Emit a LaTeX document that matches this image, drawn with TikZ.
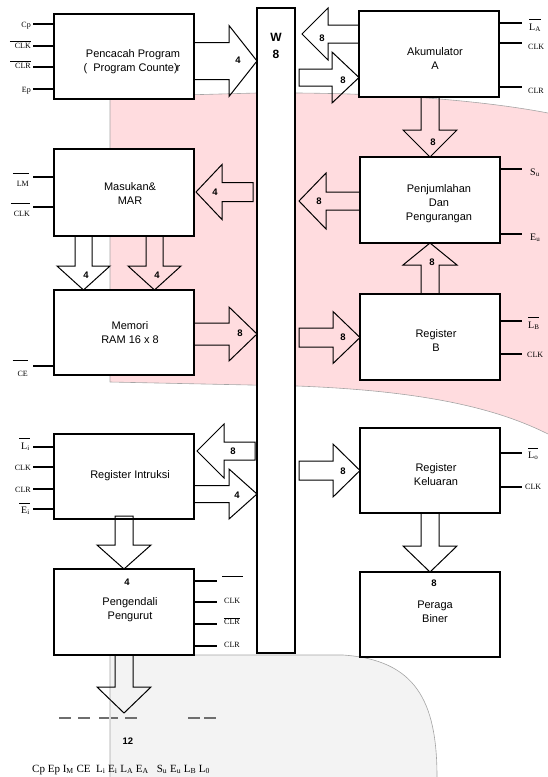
\documentclass[tikz,border=0pt]{standalone}
\usepackage{fontspec}
\setmainfont{Liberation Sans}
\newfontfamily\tmsfont{Liberation Serif}
\usetikzlibrary{calc}
\definecolor{pinkbg}{RGB}{255,220,223}
\definecolor{graybg}{RGB}{243,243,243}
\definecolor{edgegray}{RGB}{165,165,165}
\definecolor{dashgray}{RGB}{110,110,110}
% overline: #1 left extension, #2 gap, #3 content
\newcommand{\ovl}[3][0pt]{\vbox{\hrule height 0.45pt\kern#2\hbox{\kern#1#3}}}
% horizontal block arrow: start anchor, start dx, tip anchor, tip dx, y, shaft half, head half, head length (signed)
\newcommand{\hblk}[8]{%
  \coordinate (hs) at ($(#1 |- 0,#5)+(#2,0)$);
  \coordinate (ht) at ($(#3 |- 0,#5)+(#4,0)$);
  \draw[blk] ($(hs)+(0,{-(#6)})$) -- ($(ht)+({-(#8)},{-(#6)})$) -- ($(ht)+({-(#8)},{-(#7)})$) -- (ht)
    -- ($(ht)+({-(#8)},{#7})$) -- ($(ht)+({-(#8)},{#6})$) -- ($(hs)+(0,{#6})$) -- cycle;}
% vertical block arrow: start anchor, start dy, tip anchor, tip dy, x, shaft half, head half, head length (signed)
\newcommand{\vblk}[8]{%
  \coordinate (vs) at ($(#5,0 |- #1)+(0,#2)$);
  \coordinate (vt) at ($(#5,0 |- #3)+(0,#4)$);
  \draw[blk] ($(vs)+({-(#6)},0)$) -- ($(vt)+({-(#6)},{-(#8)})$) -- ($(vt)+({-(#7)},{-(#8)})$) -- (vt)
    -- ($(vt)+({#7},{-(#8)})$) -- ($(vt)+({#6},{-(#8)})$) -- ($(vs)+({#6},0)$) -- cycle;}
\newcommand{\boxat}[5]{\node[box, minimum width={(#4-#2)*1pt}, minimum height={(#5-#3)*1pt}] (#1) at ({(#2+#4)/2},{(#3+#5)/2}) {};}

\begin{document}
\begin{tikzpicture}[x=1pt,y=-1pt,
  box/.style={draw, line width=1.2pt, fill=white, inner sep=0pt, outer sep=0pt},
  blk/.style={draw, line width=1pt, line join=miter},
  sig/.style={line width=1.2pt},
  bgedge/.style={draw=edgegray, line width=0.6pt},
  txt/.style={font=\fontsize{11}{14}\selectfont, inner sep=0pt, align=center},
  lab/.style={font=\bfseries\fontsize{9.5}{11}\selectfont, inner sep=0pt},
  lblS/.style={font=\tmsfont\fontsize{8}{9}\selectfont, inner sep=0pt},
  lblL/.style={font=\tmsfont\fontsize{10}{11}\selectfont, inner sep=0pt}]
\useasboundingbox (0,0) rectangle (548,777);

% ---------- backgrounds ----------
\fill[pinkbg] (110,97) -- (257,93) .. controls (380,92) and (480,100) .. (548,113) -- (548,434)
  .. controls (500,410) and (430,391) .. (297,386) -- (110,382) -- cycle;
\draw[bgedge] (110,382) -- (110,97) -- (257,93) .. controls (380,92) and (480,100) .. (548,113);
\draw[bgedge] (548,434) .. controls (500,410) and (430,391) .. (297,386) -- (110,382);
\fill[graybg] (110,777) -- (110,655) -- (343,655) .. controls (415,660) and (437,700) .. (437,777) -- cycle;
\draw[bgedge] (110,777) -- (110,655) -- (343,655) .. controls (415,660) and (437,700) .. (437,777);

% ---------- boxes ----------
\boxat{bus}{257}{8}{295}{653}
\boxat{pc}{54}{14}{194}{99}
\boxat{acc}{359}{11}{499}{97}
\boxat{mar}{54}{149}{194}{236}
\boxat{add}{360}{157}{500}{243}
\boxat{mem}{54}{290}{194}{375}
\boxat{regb}{360}{294}{500}{380}
\boxat{ri}{54}{434}{194}{519}
\boxat{out}{360}{428}{500}{513}
\boxat{seq}{54}{569}{194}{655}
\boxat{disp}{360}{572}{500}{657}

% ---------- box texts ----------
\node[font=\bfseries\fontsize{12}{17}\selectfont, inner sep=0pt, align=center] (wl) at (276,46) {W\\8};
\node[txt] (pct1) at (133,55) {Pencacah Program};
\node[txt] (pct2) at (132,69) {(\ \ Program Counte)\kern-1pt r};
\node[txt] (acct) at (435,59) {Akumulator\\A};
\node[txt] (mart) at (130,194) {Masukan\&\\MAR};
\node[txt] (addt) at (439,204) {Penjumlahan\\Dan\\Pengurangan};
\node[txt] (memt) at (130,333) {Memori\\RAM 16 x 8};
\node[txt] (regbt) at (436,341) {Register\\B};
\node[txt] (rit) at (130,476) {Register Intruksi};
\node[txt] (outt) at (436,475) {Register\\Keluaran};
\node[lab] (seqn) at (127,582) {4};
\node[txt] (seqt) at (130,610) {Pengendali\\Pengurut};
\node[lab] (dispn) at (434,583) {8};
\node[txt] (dispt) at (435,612) {Peraga\\Biner};

% ---------- block arrows ----------
\hblk{pc.east}{0}{bus.west}{0}{61}{18.5}{35.5}{28}
\node[lab] (a1) at (238,60) {4};
\hblk{acc.west}{0}{bus.east}{7}{34}{9}{26}{-26}
\node[lab] (a2) at (322,38) {8};
\hblk{bus.east}{4}{acc.west}{0}{77.5}{8.5}{25.5}{27}
\node[lab] (a3) at (343,80) {8};
\vblk{acc.south}{0}{add.north}{0}{430}{9}{27}{27}
\node[lab] (a4) at (433,142) {8};
\hblk{add.west}{0}{bus.east}{4}{201}{9}{28}{-27}
\node[lab] (a5) at (319,201) {8};
\vblk{regb.north}{0}{add.south}{0}{430}{9}{27}{-22}
\node[lab] (a6) at (432,262) {8};
\hblk{bus.east}{4}{regb.west}{0}{337.5}{9.5}{26}{27}
\node[lab] (a7) at (343,337) {8};
\hblk{bus.west}{-4}{mar.east}{2}{192}{9.5}{27.5}{-26}
\node[lab] (a8) at (215,192) {4};
\vblk{mar.south}{0}{mem.north}{0}{83.5}{8.5}{26.5}{24}
\node[lab] (a9) at (86,275) {4};
\vblk{mar.south}{0}{mem.north}{0}{154.5}{8.5}{26.5}{24}
\node[lab] (a10) at (157,275) {4};
\hblk{mem.east}{0}{bus.west}{0}{334}{11}{27}{28}
\node[lab] (a11) at (240,333) {8};
\hblk{bus.west}{-2}{ri.east}{3}{451}{9}{27}{-27}
\node[lab] (a12) at (233,451) {8};
\hblk{ri.east}{0}{bus.west}{0}{494}{8.5}{25}{28}
\node[lab] (a13) at (237,495) {4};
\hblk{bus.east}{4}{out.west}{0}{470.5}{9.5}{26.5}{27}
\node[lab] (a14) at (343,471) {8};
\vblk{out.south}{0}{disp.north}{0}{430}{9}{27}{26}
\vblk{ri.south}{-3}{seq.north}{0}{124}{9}{27}{24}
\coordinate (ctl) at (124,713);
\vblk{seq.south}{0}{ctl}{0}{124}{9}{27}{26}

% ---------- control lines, left side ----------
\foreach \y in {24,46,67,89} \draw[sig] (pc.west |- 0,\y) -- ++(-21,0);
\foreach \y in {177,207} \draw[sig] (mar.west |- 0,\y) -- ++(-21,0);
\foreach \y in {366} \draw[sig] (mem.west |- 0,\y) -- ++(-21,0);
\foreach \y in {447,467,489,509} \draw[sig] (ri.west |- 0,\y) -- ++(-21,0);
% right side
\foreach \y in {23,43,87} \draw[sig] (acc.east |- 0,\y) -- ++(23,0);
\foreach \y in {169,234} \draw[sig] (add.east |- 0,\y) -- ++(22,0);
\foreach \y in {321,354} \draw[sig] (regb.east |- 0,\y) -- ++(22,0);
\foreach \y in {453,487} \draw[sig] (out.east |- 0,\y) -- ++(22,0);
\foreach \y in {581,602,624,646} \draw[sig] (seq.east |- 0,\y) -- ++(23,0);

% ---------- control labels ----------
\node[lblS, anchor=base east] (lcp) at (31,27) {Cp};
\node[lblS, anchor=base east] (lclk1) at (31,48) {\ovl[5pt]{1pt}{CLK}};
\node[lblS, anchor=base east] (lclr1) at (31,68) {\ovl[5pt]{1pt}{CLR}};
\node[lblS, anchor=base east] (lep) at (31,92) {Ep};
\node[lblS, anchor=base east] (llm) at (29,186) {\ovl[4pt]{7pt}{LM}};
\node[lblS, anchor=base east] (lclk2) at (30,216) {\ovl[3pt]{7pt}{CLK}};
\node[lblS, anchor=base east] (lce) at (28,376) {\ovl[5pt]{10pt}{CE}};
\node[lblL, anchor=base east] (lli) at (30,449) {\ovl[2pt]{4pt}{L\textsubscript{i}}};
\node[lblS, anchor=base east] (lclk3) at (31,470) {CLK};
\node[lblS, anchor=base east] (lclr3) at (31,492) {CLR};
\node[lblL, anchor=base east] (lei) at (30,513) {\ovl[2pt]{3pt}{E\textsubscript{i}}};

\node[lblL, anchor=base west] (lla) at (529,30) {\ovl{4pt}{L\textsubscript{A}}};
\node[lblS, anchor=base west] (lclk4) at (528,49) {CLK};
\node[lblS, anchor=base west] (lclr4) at (528,93) {CLR};
\node[lblL, anchor=base west] (lsu) at (530,175) {S\textsubscript{u}};
\node[lblL, anchor=base west] (leu) at (530,240) {E\textsubscript{u}};
\node[lblL, anchor=base west] (llb) at (528,328) {\ovl{4pt}{L\textsubscript{B}}};
\node[lblS, anchor=base west] (lclk5) at (527,357) {CLK};
\node[lblL, anchor=base west] (llo) at (528,458) {\ovl{3pt}{L\textsubscript{o}}};
\node[lblS, anchor=base west] (lclk6) at (525,489) {CLK};

\node[lblS, anchor=base west] (lblank) at (222,580) {\ovl{4pt}{\hspace{21pt}}};
\node[lblS, anchor=base west] (lclk7) at (224,603) {CLK};
\node[lblS, anchor=base west] (lclr7) at (224,624) {\ovl[-2pt]{0.5pt}{\kern2pt CLR}};
\node[lblS, anchor=base west] (lclr8) at (224,647) {CLR};

% ---------- bottom bus of control word ----------
\foreach \a/\b in {59/71,78/90,99/109,111/118,125/137,188/200,204/216}
  \draw[dashgray, line width=1.1pt] (\a,718) -- (\b,718);
\node[lab] (n12) at (128,741) {12};
\node[font=\tmsfont\fontsize{11}{12}\selectfont, inner sep=0pt, anchor=base west] (cw) at (32,772)
  {Cp Ep I\textsubscript{M} CE\ \ L\textsubscript{i} E\textsubscript{i} L\textsubscript{A} E\textsubscript{A}\ \ \ S\textsubscript{u} E\textsubscript{u} L\textsubscript{B} L\textsubscript{0}};
\end{tikzpicture}
\end{document}
